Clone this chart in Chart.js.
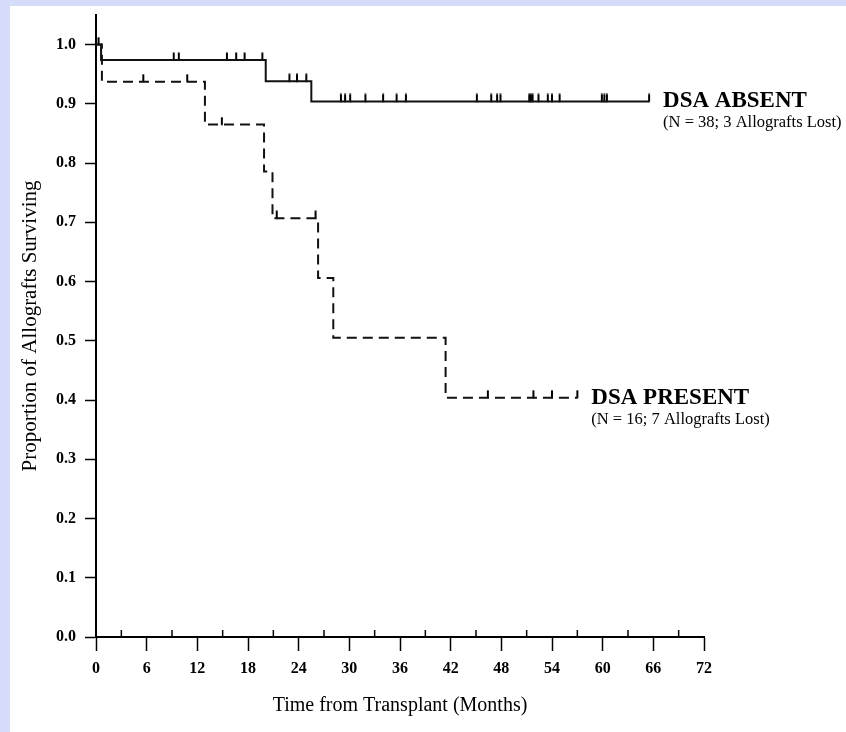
<!DOCTYPE html>
<html>
<head>
<meta charset="utf-8">
<title>Allograft survival by DSA</title>
<script src="https://cdn.jsdelivr.net/npm/chart.js@4.4.1/dist/chart.umd.min.js"></script>
<style>
  html, body { margin: 0; padding: 0; }
  body { width: 846px; height: 732px; background: #d4dcf9; overflow: hidden; }
  .lienzo { position: absolute; left: 10px; top: 6px; width: 836px; height: 726px; background: #fff; }
</style>
</head>
<body>
<div class="lienzo"><canvas id="grafica" width="836" height="726"></canvas></div>
<script>
// Kaplan-Meier steps: month of each drop and the survival level after it
var absentTimes = [0, 0.6, 20.1, 25.5, 65.5];
var absentSurv = [1.0, 0.974, 0.938, 0.904, 0.904];
var absentCensored = [0.3, 9.2, 9.8, 15.5, 16.6, 17.6, 19.7, 22.9, 23.8, 24.9,
    29.0, 29.5, 30.1, 31.9, 34.0, 35.6, 36.7, 45.1, 46.8, 47.5, 47.9,
    51.3, 51.5, 51.7, 52.4, 53.5, 54.0, 54.9, 59.9, 60.2, 60.5, 65.5];

var presentTimes = [0, 0.7, 12.9, 19.9, 20.9, 26.3, 28.1, 41.4, 57.0];
var presentSurv = [1.0, 0.9375, 0.865, 0.786, 0.707, 0.606, 0.505, 0.404, 0.404];
var presentCensored = [5.6, 10.8, 14.9, 21.4, 26.0, 46.4, 51.8, 54.0, 57.0];

var xTicks = [0, 6, 12, 18, 24, 30, 36, 42, 48, 54, 60, 66, 72];
var xMinorTicks = [3, 9, 15, 21, 27, 33, 39, 45, 51, 57, 63, 69];
var yTicks = [0, 0.1, 0.2, 0.3, 0.4, 0.5, 0.6, 0.7, 0.8, 0.9, 1.0];

var groupNames = ['DSA ABSENT', 'DSA PRESENT'];
var groupNotes = ['(N = 38; 3 Allografts Lost)', '(N = 16; 7 Allografts Lost)'];

var fuente = 'Liberation Serif';

function nivel(t, times, surv){
    var v = surv[0];
    for(var i = 0; i < times.length; i++){
        if(times[i] <= t) v = surv[i];
    }
    return v;
}

function puntos(times, surv){
    return times.map((t, i) => ({x: t, y: surv[i]}));
}

function censuras(cens, times, surv){
    return cens.map(t => ({x: t, y: nivel(t, times, surv)}));
}

// little upward tick used for censored patients
var marca = document.createElement('canvas');
marca.width = 4;
marca.height = 16;
var g = marca.getContext('2d');
g.fillStyle = '#000';
g.fillRect(1, 0.5, 2, 8);

var marcasMenores = {
    id: 'marcasMenores',
    afterDraw(chart){
        let ctx = chart.ctx,
        x = chart.scales.x,
        base = chart.chartArea.bottom;
        ctx.save();
        ctx.strokeStyle = '#000';
        ctx.lineWidth = 1.5;
        xMinorTicks.forEach(v => {
            let px = x.getPixelForValue(v);
            ctx.beginPath();
            ctx.moveTo(px, base);
            ctx.lineTo(px, base - 7);
            ctx.stroke();
        });
        ctx.restore();
    }
};

var etiquetas = {
    id: 'etiquetas',
    afterDatasetsDraw(chart){
        let ctx = chart.ctx,
        curvas = [[absentTimes, absentSurv], [presentTimes, presentSurv]];
        ctx.save();
        ctx.fillStyle = '#000';
        ctx.textAlign = 'left';
        ctx.textBaseline = 'alphabetic';
        curvas.forEach((c, i) => {
            let ult = c[0].length - 1,
            px = chart.scales.x.getPixelForValue(c[0][ult]) + 14,
            py = chart.scales.y.getPixelForValue(c[1][ult]);
            ctx.font = 'bold 23px "' + fuente + '"';
            ctx.fillText(groupNames[i], px, py + 6);
            ctx.font = '16.5px "' + fuente + '"';
            ctx.fillText(groupNotes[i], px, py + 26);
        });
        ctx.restore();
    }
};

document.addEventListener("DOMContentLoaded", () => {
    let ctx = document.getElementById('grafica').getContext('2d');

    new Chart(ctx, {
        type: 'line',
        data: {
            datasets: [
                {
                    label: groupNames[0],
                    data: puntos(absentTimes, absentSurv),
                    stepped: 'before',
                    borderColor: '#111',
                    borderWidth: 2,
                    pointRadius: 0,
                    fill: false,
                    clip: false
                },
                {
                    label: groupNames[1],
                    data: puntos(presentTimes, presentSurv),
                    stepped: 'before',
                    borderColor: '#111',
                    borderWidth: 2,
                    borderDash: [10, 6],
                    pointRadius: 0,
                    fill: false,
                    clip: false
                },
                {
                    type: 'scatter',
                    data: censuras(absentCensored, absentTimes, absentSurv),
                    showLine: false,
                    pointStyle: marca,
                    pointRadius: 4,
                    clip: false
                },
                {
                    type: 'scatter',
                    data: censuras(presentCensored, presentTimes, presentSurv),
                    showLine: false,
                    pointStyle: marca,
                    pointRadius: 4,
                    clip: false
                }
            ]
        },
        options: {
            responsive: false,
            animation: false,
            layout: { padding: { top: 9, right: 142, left: 0, bottom: 0 } },
            plugins: {
                legend: { display: false },
                tooltip: { enabled: false }
            },
            scales: {
                x: {
                    type: 'linear',
                    min: 0,
                    max: 72,
                    afterBuildTicks: s => { s.ticks = xTicks.map(v => ({value: v})); },
                    afterFit: s => { s.height = 95; },
                    border: { display: true, color: '#000', width: 2 },
                    grid: { drawOnChartArea: false, drawTicks: true, tickLength: 14, tickWidth: 1.5, tickColor: '#000' },
                    ticks: {
                        color: '#000',
                        font: { family: fuente, size: 16, weight: 'bold' },
                        padding: 8,
                        maxRotation: 0,
                        autoSkip: false,
                        callback: v => String(v)
                    },
                    title: {
                        display: true,
                        text: 'Time from Transplant (Months)',
                        color: '#000',
                        font: { family: fuente, size: 20 },
                        padding: { top: 0, bottom: 14 }
                    }
                },
                y: {
                    type: 'linear',
                    min: 0,
                    max: 1.05,
                    afterBuildTicks: s => { s.ticks = yTicks.map(v => ({value: v})); },
                    afterFit: s => { s.width = 86; s.paddingTop = 0; s.paddingBottom = 0; },
                    border: { display: true, color: '#000', width: 2 },
                    grid: { drawOnChartArea: false, drawTicks: true, tickLength: 11, tickWidth: 1.5, tickColor: '#000' },
                    ticks: {
                        color: '#000',
                        font: { family: fuente, size: 16, weight: 'bold' },
                        padding: 9,
                        callback: v => v.toFixed(1)
                    },
                    title: {
                        display: true,
                        text: 'Proportion of Allografts Surviving',
                        color: '#000',
                        font: { family: fuente, size: 21 },
                        padding: { top: 8, bottom: 0 }
                    }
                }
            }
        },
        plugins: [marcasMenores, etiquetas]
    });
});
</script>
</body>
</html>
